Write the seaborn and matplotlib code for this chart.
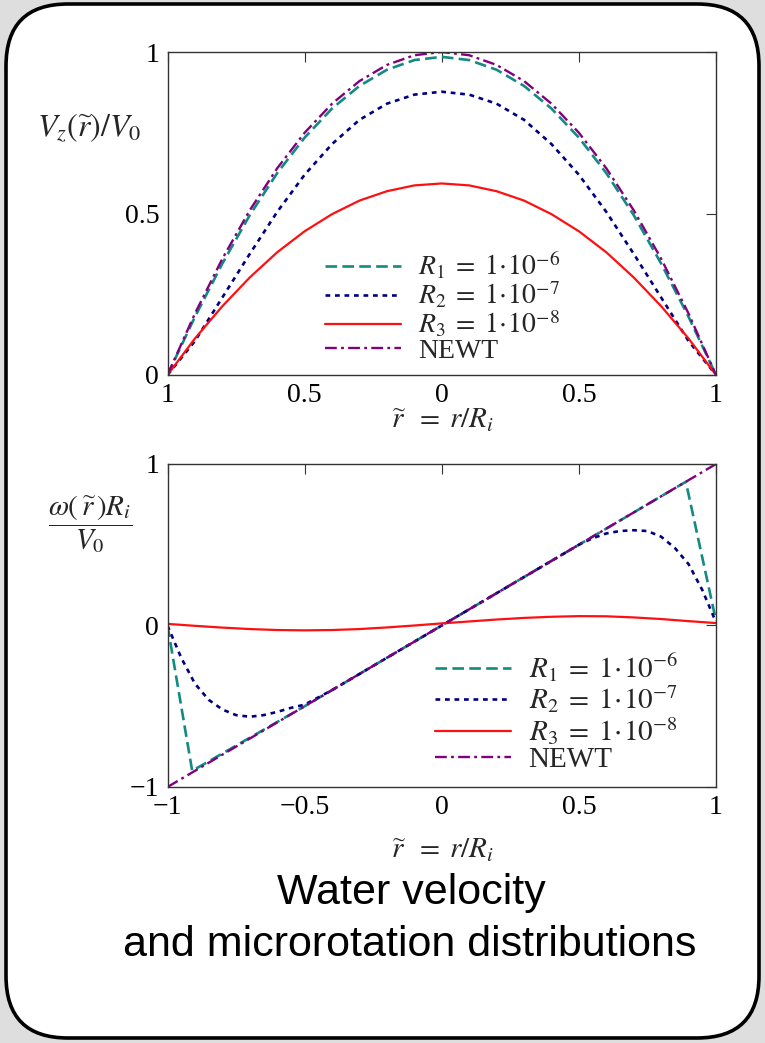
import numpy as np
import pandas as pd
import matplotlib
matplotlib.use("Agg")
import matplotlib.pyplot as plt
import seaborn as sns
from matplotlib.patches import FancyBboxPatch

# ---------------- data ----------------
r_grid = [-1.0, -0.9, -0.8, -0.7, -0.6, -0.5, -0.4, -0.3, -0.2, -0.1, 0.0,
          0.1, 0.2, 0.3, 0.4, 0.5, 0.6, 0.7, 0.8, 0.9, 1.0]

# Top panel: axial velocity Vz/V0
vz_newt = [0.0, 0.19, 0.36, 0.51, 0.64, 0.75, 0.84, 0.91, 0.96, 0.99, 1.0,
           0.99, 0.96, 0.91, 0.84, 0.75, 0.64, 0.51, 0.36, 0.19, 0.0]
vz_r1 = [0.0, 0.18, 0.345, 0.495, 0.625, 0.735, 0.825, 0.895, 0.945, 0.975, 0.985,
         0.975, 0.945, 0.895, 0.825, 0.735, 0.625, 0.495, 0.345, 0.18, 0.0]
vz_r2 = [0.0, 0.105, 0.24, 0.375, 0.505, 0.62, 0.715, 0.79, 0.84, 0.868, 0.877,
         0.868, 0.84, 0.79, 0.715, 0.62, 0.505, 0.375, 0.24, 0.105, 0.0]
vz_r3 = [0.0, 0.113, 0.213, 0.302, 0.38, 0.445, 0.498, 0.54, 0.569, 0.587, 0.593,
         0.587, 0.569, 0.54, 0.498, 0.445, 0.38, 0.302, 0.213, 0.113, 0.0]

# Bottom panel: microrotation
om_newt = [-1.0, -0.9, -0.8, -0.7, -0.6, -0.5, -0.4, -0.3, -0.2, -0.1, 0.0,
           0.1, 0.2, 0.3, 0.4, 0.5, 0.6, 0.7, 0.8, 0.9, 1.0]
r_om_r1 = [-1.0, -0.91, -0.5, 0.0, 0.5, 0.89, 1.0]
om_r1 = [0.0, -0.9, -0.5, 0.0, 0.5, 0.89, 0.03]
r_om_r2 = [-1.0, -0.95, -0.9, -0.85, -0.8, -0.75, -0.7, -0.65, -0.6, -0.55, -0.5,
           -0.4, -0.2, 0.0, 0.2, 0.4, 0.5, 0.55, 0.6, 0.65, 0.7, 0.75, 0.8,
           0.85, 0.9, 0.95, 1.0]
om_r2 = [0.0, -0.2, -0.36, -0.46, -0.52, -0.555, -0.565, -0.555, -0.535, -0.51, -0.49,
         -0.4, -0.2, 0.0, 0.2, 0.4, 0.5, 0.54, 0.57, 0.585, 0.59, 0.585, 0.55,
         0.48, 0.38, 0.22, 0.02]
om_r3 = [0.01, -0.002, -0.013, -0.022, -0.028, -0.03, -0.028, -0.022, -0.012, 0.0, 0.013,
         0.025, 0.037, 0.047, 0.054, 0.058, 0.057, 0.05, 0.04, 0.027, 0.015]

labels = [r"$R_1\;=\;1\!\cdot\!10^{-6}$", r"$R_2\;=\;1\!\cdot\!10^{-7}$",
          r"$R_3\;=\;1\!\cdot\!10^{-8}$", "NEWT"]
top_xticks = [-1.0, -0.5, 0.0, 0.5, 1.0]
top_xticklabels = ["1", "0.5", "0", "0.5", "1"]
top_yticks = [0.0, 0.5, 1.0]
top_yticklabels = ["0", "0.5", "1"]
bot_xticks = [-1.0, -0.5, 0.0, 0.5, 1.0]
bot_xticklabels = ["\u22121", "\u22120.5", "0", "0.5", "1"]
bot_yticks = [-1.0, 0.0, 1.0]
bot_yticklabels = ["\u22121", "0", "1"]

# ---------------- styling ----------------
sns.set_theme(style="white")
plt.rcParams["font.family"] = ["Liberation Serif", "DejaVu Serif"]
plt.rcParams["mathtext.fontset"] = "stix"

C_R1 = "#138a82"
C_R2 = "#000080"
C_R3 = "#ff1010"
C_NW = "#800080"
styles = [
    dict(color=C_R1, lw=1.9, linestyle=(0, (4.4, 2.0))),
    dict(color=C_R2, lw=1.9, linestyle=(0, (1.8, 1.8))),
    dict(color=C_R3, lw=1.6, linestyle="-"),
    dict(color=C_NW, lw=1.7, linestyle=(0, (5.0, 1.8, 1.2, 1.8))),
]

W, H = 765, 1043
fig = plt.figure(figsize=(W / 100, H / 100), dpi=100)
fig.patch.set_facecolor("#dedede")

bg = fig.add_axes([0, 0, 1, 1])
bg.set_xlim(0, W)
bg.set_ylim(H, 0)
bg.axis("off")
bg.add_patch(FancyBboxPatch((6, 4), 753, 1034,
                            boxstyle="round,pad=0,rounding_size=62",
                            fc="white", ec="black", lw=2.6))


def px_axes(left, top, right, bottom):
    return fig.add_axes([left / W, 1 - bottom / H, (right - left) / W, (bottom - top) / H])


def style_axes(ax, xt, xl, yt, yl, ylim):
    ax.set_facecolor("white")
    ax.set_xlim(-1, 1)
    ax.set_ylim(*ylim)
    ax.set_xticks(xt)
    ax.set_xticklabels(xl)
    ax.set_yticks(yt)
    ax.set_yticklabels(yl)
    ax.tick_params(direction="in", length=7.2, width=0.8, top=True, right=True,
                   labelsize=20, color="#333333", labelcolor="black")
    ax.tick_params(axis="x", pad=6)
    ax.tick_params(axis="y", pad=6)
    for s in ax.spines.values():
        s.set_color("#333333")
        s.set_linewidth(1.0)
    ax.set_xlabel("")
    ax.set_ylabel("")


# Top panel
ax1 = px_axes(167.5, 52, 716, 375)
top_series = [(r_grid, vz_r1), (r_grid, vz_r2), (r_grid, vz_r3), (r_grid, vz_newt)]
for (xs, ys), lab, st in zip(top_series, labels, styles):
    df = pd.DataFrame({"r": xs, "v": ys})
    sns.lineplot(data=df, x="r", y="v", ax=ax1, label=lab, estimator=None, sort=False, **st)
style_axes(ax1, top_xticks, top_xticklabels, top_yticks, top_yticklabels, (0, 1))
ax1.legend(loc="center left", bbox_to_anchor=(0.287, 0.21), frameon=False,
           fontsize=20, handlelength=2.75, handletextpad=0.6, labelspacing=-0.05,
           borderpad=0, borderaxespad=0)

# Bottom panel
ax2 = px_axes(167.5, 464, 716, 787)
bot_series = [(r_om_r1, om_r1), (r_om_r2, om_r2), (r_grid, om_r3), (r_grid, om_newt)]
for (xs, ys), lab, st in zip(bot_series, labels, styles):
    df = pd.DataFrame({"r": xs, "w": ys})
    sns.lineplot(data=df, x="r", y="w", ax=ax2, label=lab, estimator=None, sort=False, **st)
style_axes(ax2, bot_xticks, bot_xticklabels, bot_yticks, bot_yticklabels, (-1, 1))
ax2.legend(loc="center left", bbox_to_anchor=(0.488, 0.231), frameon=False,
           fontsize=21, handlelength=2.6, handletextpad=0.6, labelspacing=0.0,
           borderpad=0, borderaxespad=0)

# Axis labels
fig.text(89 / W, 1 - 128 / H, r"$V_z(\widetilde{r})/V_0$", ha="center", va="center", fontsize=23)
fig.text(442 / W, 1 - 420 / H, r"$\widetilde{r}\ \;=\; r/R_i$", ha="center", va="center", fontsize=21)
fig.text(90 / W, 1 - 524 / H, r"$\dfrac{\omega(\,\widetilde{r}\,)R_i}{V_0}$",
         ha="center", va="center", fontsize=21)
fig.text(442 / W, 1 - 850 / H, r"$\widetilde{r}\ \;=\; r/R_i$", ha="center", va="center", fontsize=21)

# Caption
fig.text(411 / W, 1 - 893 / H, "Water velocity", ha="center", va="center",
         fontsize=31, family=["Liberation Sans", "DejaVu Sans"], color="black")
fig.text(410 / W, 1 - 945 / H, "and microrotation distributions", ha="center", va="center",
         fontsize=31, family=["Liberation Sans", "DejaVu Sans"], color="black")

fig.savefig("out.png", dpi=100, facecolor=fig.get_facecolor())
